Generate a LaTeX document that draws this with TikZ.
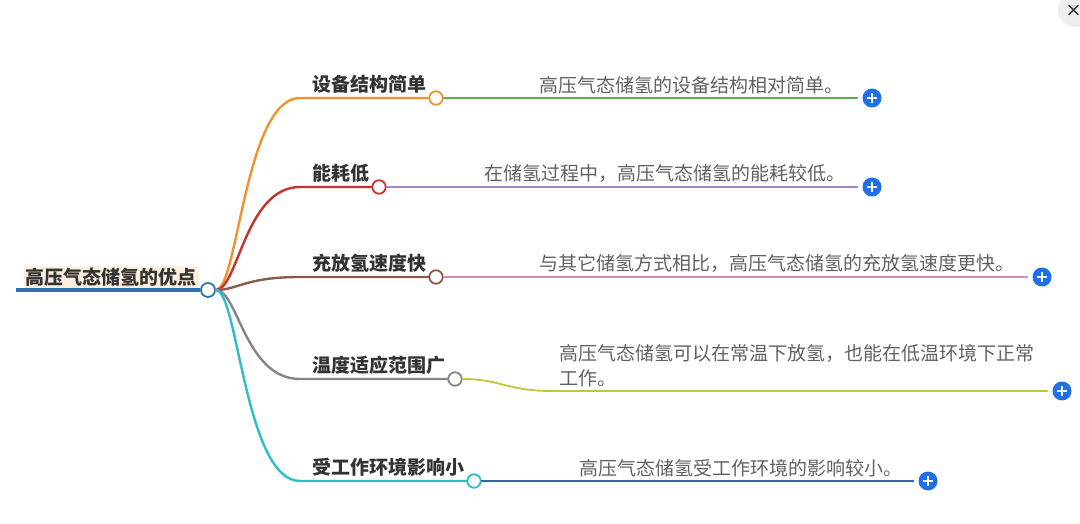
\documentclass[tikz,border=0pt]{standalone}
\usepackage{fontspec}
\setmainfont{Noto Sans CJK SC}
\usetikzlibrary{positioning}
\definecolor{rootc}{HTML}{2F72B2}
\definecolor{orangec}{HTML}{F0922E}
\definecolor{redc}{HTML}{C8322E}
\definecolor{brownc}{HTML}{8C5A4B}
\definecolor{grayc}{HTML}{858585}
\definecolor{tealc}{HTML}{2EBDCB}
\definecolor{greenc}{HTML}{5BAE4A}
\definecolor{purplec}{HTML}{A585C4}
\definecolor{pinkc}{HTML}{D389B8}
\definecolor{olivec}{HTML}{C4C43E}
\definecolor{bluec}{HTML}{2D67A8}
\definecolor{plusc}{HTML}{1F6FEA}
\definecolor{hlc}{HTML}{FCEFDD}
\tikzset{knot/.style={circle,draw,fill=white,line width=1.8pt,minimum size=13.5pt,inner sep=0pt}}
\tikzset{key/.style={font=\bfseries\fontsize{19}{22}\selectfont,text=black!80,inner sep=1pt,yshift=3pt}}
\tikzset{detail/.style={font=\fontsize{19}{25}\selectfont,text=black!62,inner sep=1pt,align=left,yshift=3pt}}
\tikzset{branch/.style={line width=2.4pt}}
\tikzset{twig/.style={line width=1.8pt,shorten >=5pt}}
\tikzset{plus/.style={circle,fill=plusc,minimum size=19pt,inner sep=0pt,
    path picture={\draw[white,line width=1.8pt,line cap=butt]
      ([xshift=-5pt]path picture bounding box.center) -- ([xshift=5pt]path picture bounding box.center)
      ([yshift=-5pt]path picture bounding box.center) -- ([yshift=5pt]path picture bounding box.center);}}}
\tikzset{closebtn/.style={circle,fill=black!7,minimum size=34pt,inner sep=0pt,
    path picture={\draw[black!75,line width=1.6pt]
      ([shift={(-6pt,-4.5pt)}]path picture bounding box.center) -- ([shift={(3pt,4.5pt)}]path picture bounding box.center)
      ([shift={(-6pt,4.5pt)}]path picture bounding box.center) -- ([shift={(3pt,-4.5pt)}]path picture bounding box.center);}}}

\begin{document}
\begin{tikzpicture}[x=1pt,y=-1pt,line cap=round]
        \useasboundingbox (0,0) rectangle (1080,524);
        \coordinate(rs) at (16,290);
        \coordinate(bend) at (300,0);
        \node(rc)[knot,draw=rootc,minimum size=14pt] at (208,290){};
        \node(root)[key,fill=hlc,rounded corners=3pt,inner sep=2pt,yshift=-2pt,left=1pt of rc.west,anchor=south east]{高压气态储氢的优点};
        \node(c1)[knot,draw=orangec] at (436,98){};
        \node(c2)[knot,draw=redc] at (379,187){};
        \node(c3)[knot,draw=brownc] at (436,277){};
        \node(c4)[knot,draw=grayc] at (455,379){};
        \node(c5)[knot,draw=tealc] at (474,481){};
        \node(k1)[key,left=1pt of c1.west,anchor=south east]{设备结构简单};
        \node(k2)[key,left=1pt of c2.west,anchor=south east]{能耗低};
        \node(k3)[key,left=1pt of c3.west,anchor=south east]{充放氢速度快};
        \node(k4)[key,left=1pt of c4.west,anchor=south east]{温度适应范围广};
        \node(k5)[key,left=1pt of c5.west,anchor=south east]{受工作环境影响小};
        \node(p1)[plus] at (872,98){};
        \node(p2)[plus] at (872,187){};
        \node(p3)[plus] at (1042,277){};
        \node(p4)[plus] at (1062,391){};
        \node(p5)[plus] at (928,481){};
        \coordinate(t4) at (552,391);
        \node(d1)[detail,right=102pt of c1.center,anchor=south west]{高压气态储氢的设备结构相对简单。};
        \node(d2)[detail,right=104pt of c2.center,anchor=south west]{在储氢过程中，高压气态储氢的能耗较低。};
        \node(d3)[detail,right=102pt of c3.center,anchor=south west]{与其它储氢方式相比，高压气态储氢的充放氢速度更快。};
        \node(d4)[detail,right=6pt of t4,anchor=south west]{高压气态储氢可以在常温下放氢，也能在低温环境下正常\\工作。};
        \node(d5)[detail,right=104pt of c5.center,anchor=south west]{高压气态储氢受工作环境的影响较小。};
        \node(close)[closebtn] at (1075,10){};
        \draw[branch,rootc,line width=4pt,line cap=butt](rs) -- (rc);
        \draw[branch,orangec](rc.east) .. controls +(22,0) and +(-55,0) .. (bend |- c1) -- (c1);
        \draw[branch,redc](rc.east) .. controls +(22,0) and +(-55,0) .. (bend |- c2) -- (c2);
        \draw[branch,brownc](rc.east) .. controls +(22,0) and +(-55,0) .. (bend |- c3) -- (c3);
        \draw[branch,grayc](rc.east) .. controls +(22,0) and +(-55,0) .. (bend |- c4) -- (c4);
        \draw[branch,tealc](rc.east) .. controls +(22,0) and +(-55,0) .. (bend |- c5) -- (c5);
        \draw[twig,greenc](c1) -- (p1);
        \draw[twig,purplec](c2) -- (p2);
        \draw[twig,pinkc](c3) -- (p3);
        \draw[twig,olivec](c4) .. controls +(45,0) and +(-45,0) .. (t4) -- (p4);
        \draw[twig,bluec](c5) -- (p5);
\end{tikzpicture}
\end{document}
